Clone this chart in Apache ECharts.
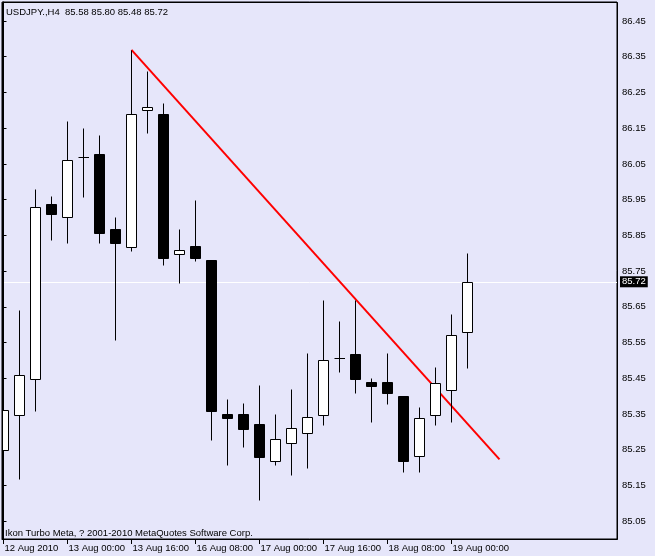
<!DOCTYPE html>
<html>
<head>
<meta charset="utf-8">
<script src="https://cdn.jsdelivr.net/npm/echarts@6/dist/echarts.min.js"></script>
<style>
html,body{margin:0;padding:0;background:#E6E6FA;}
#c{width:655px;height:556px;}
</style>
</head>
<body>
<div id="c"></div>
<script>
// ---- data (H4 bars, USDJPY) ----
const times = [
  '12 Aug 08:00','12 Aug 12:00','12 Aug 16:00','12 Aug 20:00',
  '13 Aug 00:00','13 Aug 04:00','13 Aug 08:00','13 Aug 12:00','13 Aug 16:00','13 Aug 20:00',
  '16 Aug 00:00','16 Aug 04:00','16 Aug 08:00','16 Aug 12:00','16 Aug 16:00','16 Aug 20:00',
  '17 Aug 00:00','17 Aug 04:00','17 Aug 08:00','17 Aug 12:00','17 Aug 16:00','17 Aug 20:00',
  '18 Aug 00:00','18 Aug 04:00','18 Aug 08:00','18 Aug 12:00','18 Aug 16:00','18 Aug 20:00',
  '19 Aug 00:00','19 Aug 04:00'
];
const opens  = [85.25,85.348,85.449,85.939,85.90,86.068,86.079,85.869,85.818,86.20,86.19,85.799,85.819,85.78,85.349,85.349,85.321,85.218,85.269,85.297,85.348,85.508,85.519,85.439,85.439,85.40,85.231,85.348,85.418,85.58];
const highs  = [85.79,85.64,85.979,85.96,86.17,86.15,86.13,85.90,86.369,86.31,86.22,85.869,85.949,85.78,85.391,85.38,85.43,85.349,85.419,85.52,85.668,85.61,85.668,85.45,85.52,85.40,85.369,85.481,85.629,85.80];
const lows   = [85.206,85.168,85.358,85.837,85.829,85.958,85.829,85.556,85.807,86.137,85.767,85.717,85.779,85.278,85.206,85.258,85.108,85.206,85.178,85.199,85.318,85.468,85.409,85.328,85.379,85.188,85.188,85.319,85.328,85.48];
const closes = [85.36,85.46,85.928,85.909,86.06,86.068,85.857,85.829,86.189,86.208,85.787,85.808,85.787,85.358,85.339,85.308,85.23,85.279,85.31,85.341,85.50,85.508,85.448,85.428,85.409,85.218,85.34,85.438,85.57,85.72];
// trend line endpoints: [bar index, price]
const trendLine = [[8, 86.369], [31, 85.223]];
const yTicks = [85.05,85.15,85.25,85.35,85.45,85.55,85.65,85.75,85.85,85.95,86.05,86.15,86.25,86.35,86.45];
const xTickIdx = [0,4,8,12,16,20,24,28];
const xTickLabels = ['12 Aug 2010','13 Aug 00:00','13 Aug 16:00','16 Aug 08:00','17 Aug 00:00','17 Aug 16:00','18 Aug 08:00','19 Aug 00:00'];
const symbolName = 'USDJPY.,H4';
const footer = 'Ikon Turbo Meta, ? 2001-2010 MetaQuotes Software Corp.';

const FONT = '"Liberation Sans", Arial, sans-serif';
const FS = 9.5;
const last = times.length - 1;
const lastClose = closes[last];
const titleText = symbolName + '  ' + [opens[last], highs[last], lows[last], closes[last]].map(v => v.toFixed(2)).join(' ');

const candleData = times.map((t, i) => [i, opens[i], closes[i], lows[i], highs[i]]);

function renderCandle(params, api) {
  const i = api.value(0), o = api.value(1), c = api.value(2), l = api.value(3), h = api.value(4);
  const pO = api.coord([i, o]);
  const pC = api.coord([i, c]);
  const pL = api.coord([i, l]);
  const pH = api.coord([i, h]);
  const x = Math.floor(pO[0]) + 0.5;
  const yO = Math.round(pO[1]) + 0.5;
  const yC = Math.round(pC[1]) + 0.5;
  const yL = Math.round(pL[1]) + 0.5;
  const yH = Math.round(pH[1]) + 0.5;
  const half = 5;
  const children = [{
    type: 'line',
    shape: {x1: x, y1: yH, x2: x, y2: yL},
    style: {stroke: '#000', lineWidth: 1}
  }];
  if (yO === yC) {
    children.push({
      type: 'line',
      shape: {x1: x - half, y1: yC, x2: x + half + 0.5, y2: yC},
      style: {stroke: '#000', lineWidth: 1}
    });
  } else {
    const top = Math.min(yO, yC), bot = Math.max(yO, yC);
    const bull = c > o;
    children.push({
      type: 'rect',
      shape: {x: x - half, y: top, width: half * 2, height: bot - top},
      style: {fill: bull ? '#fff' : '#000', stroke: '#000', lineWidth: 1}
    });
  }
  return {type: 'group', children: children};
}

const chart = echarts.init(document.getElementById('c'), null, {renderer: 'canvas'});
const xMin = (2 - 3.5) / 16;
const xMax = xMin + 615 / 16;
const G = {left: 2, top: 2, width: 615, height: 537};

chart.setOption({
  animation: false,
  backgroundColor: '#E6E6FA',
  textStyle: {fontFamily: FONT},
  grid: {
    left: G.left, top: G.top, width: G.width, height: G.height,
    show: true, backgroundColor: '#E6E6FA', borderColor: '#000', borderWidth: 1
  },
  xAxis: {
    type: 'value', min: xMin, max: xMax,
    axisLine: {show: true, onZero: false, lineStyle: {color: '#000'}},
    axisTick: {show: true, customValues: xTickIdx, length: 5, lineStyle: {color: '#000'}},
    axisLabel: {
      customValues: xTickIdx, align: 'left', margin: 4, padding: [0, 0, 0, 1],
      color: '#000', fontSize: FS, fontFamily: FONT,
      formatter: v => xTickLabels[xTickIdx.indexOf(Math.round(v))]
    },
    splitLine: {show: false}
  },
  yAxis: {
    type: 'value', position: 'right', min: 85.0, max: 86.5032, scale: true,
    axisLine: {show: true, lineStyle: {color: '#000'}},
    axisTick: {show: true, customValues: yTicks, length: 3, lineStyle: {color: '#000'}},
    axisLabel: {
      customValues: yTicks, margin: 5, color: '#000', fontSize: FS, fontFamily: FONT,
      formatter: v => v.toFixed(2)
    },
    splitLine: {show: false}
  },
  graphic: [
    {type: 'rect', z: 90, silent: true,
     shape: {x: G.left + 0.5, y: G.top + 0.5, width: G.width, height: G.height},
     style: {fill: null, stroke: '#000', lineWidth: 1}},
    {type: 'text', left: 6, top: 7, z: 100,
     style: {text: titleText, font: FS + 'px ' + FONT, fill: '#000'}},
    {type: 'text', left: 5, top: 528, z: 100,
     style: {text: footer, font: FS + 'px ' + FONT, fill: '#000'}}
  ],
  series: [
    {
      // current price line (below everything)
      type: 'line', z: 1, data: [], symbol: 'none',
      markLine: {
        silent: true, symbol: 'none', animation: false, z: 1,
        lineStyle: {color: '#FFFFFF', width: 1, type: 'solid'},
        label: {
          show: true, position: 'end', distance: 3,
          formatter: lastClose.toFixed(2),
          color: '#fff', backgroundColor: '#000', padding: [1, 2, 0, 2],
          fontSize: FS, fontFamily: FONT
        },
        data: [{yAxis: lastClose}]
      }
    },
    {
      type: 'line', z: 3, data: trendLine, symbol: 'none', clip: true,
      lineStyle: {color: '#FF0000', width: 2}
    },
    {
      type: 'custom', z: 5, clip: true,
      renderItem: renderCandle,
      encode: {x: 0, y: [1, 2, 3, 4]},
      data: candleData
    }
  ]
});
</script>
</body>
</html>
